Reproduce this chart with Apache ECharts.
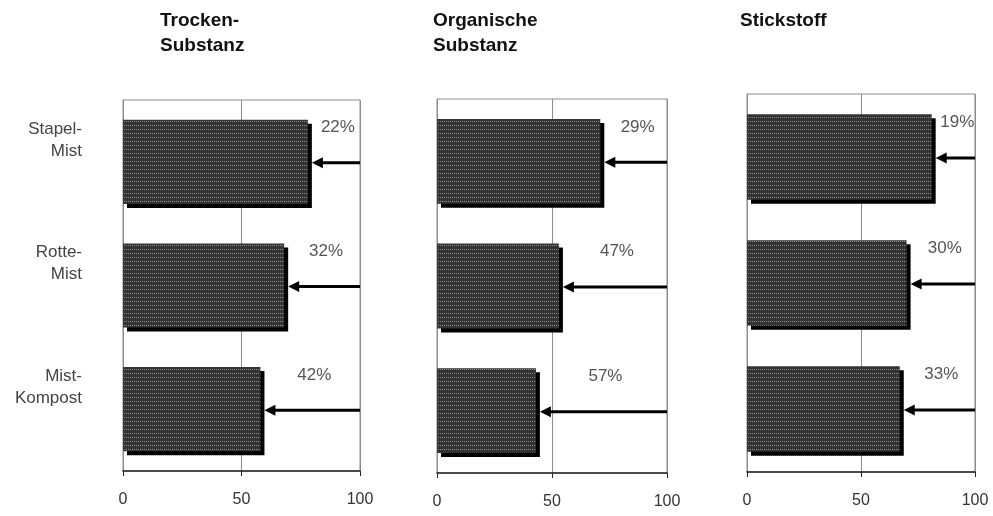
<!DOCTYPE html>
<html>
<head>
<meta charset="utf-8">
<script src="https://cdn.jsdelivr.net/npm/echarts@6/dist/echarts.min.js"></script>
<style>
html,body{margin:0;padding:0;background:#fff;}
#c{width:993px;height:516px;}
</style>
</head>
<body>
<div id="c"></div>
<script>
// ---- data ----
var categories = ['Stapel-\nMist', 'Rotte-\nMist', 'Mist-\nKompost'];
var panelTitles = ['Trocken-\nSubstanz', 'Organische\nSubstanz', 'Stickstoff'];
var remainTrocken = [78, 68, 58];
var remainOrganisch = [71, 53, 43];
var remainStickstoff = [81, 70, 67];
var lossTrocken = ['22%', '32%', '42%'];
var lossOrganisch = ['29%', '47%', '57%'];
var lossStickstoff = ['19%', '30%', '33%'];
var xTicks = [0, 50, 100];

var remains = [remainTrocken, remainOrganisch, remainStickstoff];
var losses = [lossTrocken, lossOrganisch, lossStickstoff];

// ---- layout ----
var grids = [
  {left: 123, top: 100, width: 237, height: 371},
  {left: 437, top: 99, width: 230, height: 374},
  {left: 747, top: 94, width: 228, height: 378}
];
var titlePos = [{left: 160, top: 8}, {left: 433, top: 8}, {left: 740, top: 8}];
var FONT = '"Liberation Sans", Arial, sans-serif';

// pattern for bars
function makePattern() {
  var cv = document.createElement('canvas');
  cv.width = 4; cv.height = 4;
  var ctx = cv.getContext('2d');
  ctx.fillStyle = '#333333';
  ctx.fillRect(0, 0, 4, 4);
  ctx.fillStyle = '#8c8c8c';
  ctx.fillRect(0, 1, 1, 1);
  ctx.fillRect(2, 1, 1, 1);
  return cv;
}
var pattern = makePattern();

var chart = echarts.init(document.getElementById('c'), null, {renderer: 'canvas'});

var option = {
  animation: false,
  backgroundColor: '#fff',
  title: panelTitles.map(function (t, i) {
    return {
      text: t, left: titlePos[i].left, top: titlePos[i].top, padding: 0,
      textStyle: {fontFamily: FONT, fontSize: 19, fontWeight: 'bold', color: '#111', lineHeight: 25}
    };
  }),
  grid: grids.map(function (g) {
    return {left: g.left, top: g.top, width: g.width, height: g.height,
      show: true, borderColor: '#8c8c8c', borderWidth: 1, backgroundColor: 'transparent'};
  }),
  xAxis: grids.map(function (g, i) {
    return {
      type: 'value', gridIndex: i, min: 0, max: 100, interval: 50,
      axisLine: {show: true, lineStyle: {color: '#222', width: 1.5}},
      axisTick: {show: true, length: 5, lineStyle: {color: '#222'}},
      splitLine: {show: true, lineStyle: {color: '#8c8c8c', width: 1}},
      axisLabel: {margin: 21, fontFamily: FONT, fontSize: 16, color: '#333',
        formatter: function (v) { return xTicks.indexOf(v) >= 0 ? String(v) : ''; }}
    };
  }),
  yAxis: grids.map(function (g, i) {
    return {
      type: 'category', gridIndex: i, data: categories, inverse: true,
      axisLine: {show: true, lineStyle: {color: '#8c8c8c'}},
      axisTick: {show: false},
      axisLabel: {show: i === 0, margin: 41, fontFamily: FONT, fontSize: 17, color: '#444',
        lineHeight: 22, align: 'right', verticalAlign: 'bottom'}
    };
  }),
  series: []
};

remains.forEach(function (vals, i) {
  option.series.push({
    type: 'bar', xAxisIndex: i, yAxisIndex: i, data: vals,
    barCategoryGap: '32%',
    itemStyle: {color: {image: pattern, repeat: 'repeat'},
      shadowColor: '#000', shadowBlur: 0, shadowOffsetX: 4, shadowOffsetY: 4}
  });
  option.series.push({
    type: 'custom', xAxisIndex: i, yAxisIndex: i,
    data: vals.map(function (v, k) { return [v, k, losses[i][k]]; }),
    renderItem: function (params, api) {
      var v = api.value(0), k = api.value(1);
      var band = api.size([0, 1])[1];
      var end = api.coord([v, k]);
      var start = api.coord([100, k]);
      var mid = api.coord([(v + 100) / 2, k]);
      var y = end[1] + 1;
      var tipX = end[0] + 4;
      var barTop = end[1] - band * 0.34;
      return {
        type: 'group',
        children: [
          {type: 'line', shape: {x1: tipX + 8, y1: y, x2: start[0], y2: y},
            style: {stroke: '#000', lineWidth: 3}},
          {type: 'polygon', shape: {points: [[tipX, y], [tipX + 11, y - 5.5], [tipX + 11, y + 5.5]]},
            style: {fill: '#000'}},
          {type: 'text', x: mid[0] + 4, y: barTop + 8,
            style: {text: losses[i][k], fill: '#555', fontFamily: FONT, fontSize: 17,
              align: 'center', verticalAlign: 'middle'}}
        ]
      };
    }
  });
});

chart.setOption(option);
</script>
</body>
</html>
